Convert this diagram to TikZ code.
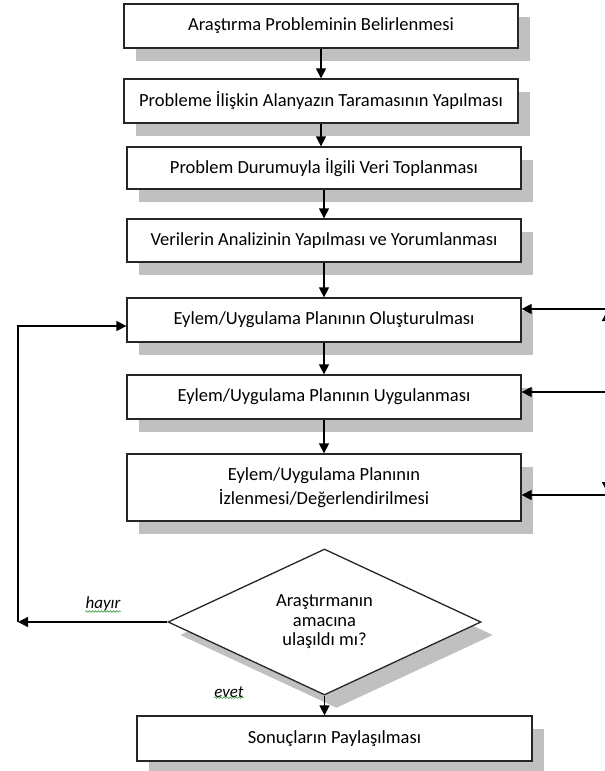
\documentclass[tikz,border=0pt]{standalone}
\usepackage{fontspec}
\setmainfont{Carlito}
\usetikzlibrary{arrows.meta,shapes.geometric,shadows,decorations.pathmorphing}
\definecolor{shadowgray}{RGB}{192,192,192}
\definecolor{spellgreen}{RGB}{60,160,60}
\tikzset{
  box/.style={draw=black!85, line width=1.3pt, fill=white, inner sep=0pt,
    font=\fontsize{18.5pt}{24.5pt}\selectfont, align=center,
    drop shadow={shadow xshift=12pt, shadow yshift=-13pt, fill=shadowgray, opacity=1}},
  dia/.style={box, diamond, aspect=2.14},
  arr/.style={line width=1.3pt, -{Triangle[length=10pt,width=10pt]}},
  lab/.style={font=\fontsize{17pt}{19pt}\selectfont\itshape, inner sep=0pt},
  squig/.style={spellgreen, line width=0.6pt, decorate, decoration={snake, amplitude=0.8pt, segment length=3pt}}
}
\begin{document}
\begin{tikzpicture}[x=1pt,y=-1pt]
\useasboundingbox[fill=white] (0,0) rectangle (605,771);
\clip (0,0) rectangle (605,771);
\node[box, minimum width=394pt, minimum height=44pt] (b1) at (321,26) {Araştırma Probleminin Belirlenmesi};
\node[box, minimum width=394pt, minimum height=44pt] (b2) at (321,101) {Probleme İlişkin Alanyazın Taramasının Yapılması};
\node[box, minimum width=394pt, minimum height=42pt] (b3) at (324,168) {Problem Durumuyla İlgili Veri Toplanması};
\node[box, minimum width=394pt, minimum height=43pt] (b4) at (324,240.5) {Verilerin Analizinin Yapılması ve Yorumlanması};
\node[box, minimum width=394pt, minimum height=44pt] (b5) at (324,320) {Eylem/Uygulama Planının Oluşturulması};
\node[box, minimum width=394pt, minimum height=44pt] (b6) at (324,397) {Eylem/Uygulama Planının Uygulanması};
\node[box, minimum width=394pt, minimum height=67pt] (b7) at (324,487.5) {Eylem/Uygulama Planının\\İzlenmesi/Değerlendirilmesi};
\node[dia, minimum width=313pt, minimum height=146pt, font=\fontsize{18.5pt}{19.5pt}\selectfont] (d) at (324.5,622) {Araştırmanın\\amacına\\ulaşıldı mı?};
\node[box, minimum width=395pt, minimum height=45pt] (b8) at (334.5,738.5) {Sonuçların Paylaşılması};

\draw[arr] (b1.south) -- (b2.north);
\draw[arr] (b2.south) -- (b2.south |- b3.north);
\draw[arr] (b3.south) -- (b4.north);
\draw[arr] (b4.south) -- (b5.north);
\draw[arr] (b5.south) -- (b6.north);
\draw[arr] (b6.south) -- (b7.north);
\draw[arr] (d.south) -- (d.south |- b8.north);

% right side inputs
\coordinate (r5) at (605,309);
\coordinate (r6) at (605,392);
\coordinate (r7) at (605,495);
\draw[arr] (r5) -- (r5 -| b5.east);
\draw[arr] (r6) -- (r6 -| b6.east);
\draw[arr] (r7) -- (r7 -| b7.east);
\coordinate (vm) at (607,400);
\coordinate (vt) at (607,311);
\coordinate (vb) at (607,492);
\draw[arr] (vm) -- (vt);
\draw[arr] (vm) -- (vb);

% left loop
\coordinate (L1) at (18,622);
\coordinate (L2) at (18,326);
\draw[arr] (d.west) -- (L1);
\draw[arr] (L1) -- (L2) -- (L2 -| b5.west);

\node[lab] (h) at (103,604) {hayır};
\draw[squig] (h.south west) -- (h.south east);
\node[lab] (e) at (229,692) {evet};
\draw[squig] (e.south west) -- (e.south east);
\end{tikzpicture}
\end{document}
